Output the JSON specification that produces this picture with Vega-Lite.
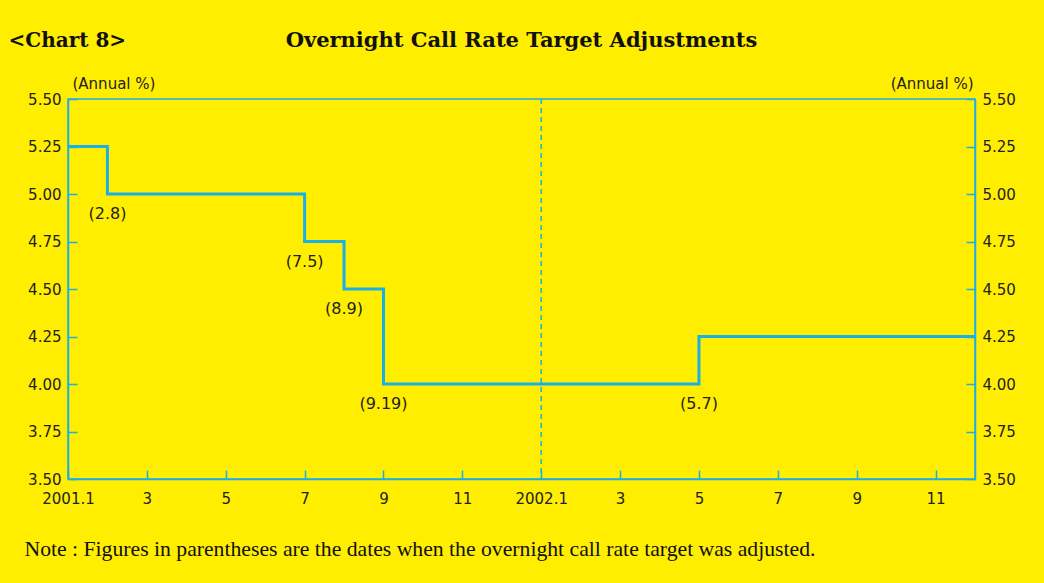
{
  "$schema": "https://vega.github.io/schema/vega-lite/v6.json",
  "width": 907,
  "height": 380,
  "autosize": {"type": "none"},
  "padding": {"left": 68, "top": 99, "right": 69, "bottom": 104},
  "background": "#FFEE00",
  "title": {
    "text": "Overnight Call Rate Target Adjustments",
    "anchor": "middle",
    "frame": "group",
    "font": "DejaVu Serif",
    "fontWeight": "bold",
    "fontSize": 21,
    "color": "#111111",
    "offset": -21
  },
  "config": {
    "view": {"stroke": "#1AAFE6", "strokeWidth": 1.5},
    "axis": {
      "grid": false,
      "domainColor": "#1AAFE6",
      "domainWidth": 1.5,
      "tickColor": "#1AAFE6",
      "tickWidth": 1.5,
      "labelFont": "DejaVu Sans",
      "labelFontSize": 15,
      "labelColor": "#222222",
      "labelFlush": false,
      "labelOverlap": false,
      "titleFont": "DejaVu Sans",
      "titleFontSize": 15,
      "titleFontWeight": "normal",
      "titleColor": "#222222"
    }
  },
  "datasets": {
    "steps": [
      {"m": 0, "rate": 5.25},
      {"m": 1, "rate": 5.0},
      {"m": 6, "rate": 4.75},
      {"m": 7, "rate": 4.5},
      {"m": 8, "rate": 4.0},
      {"m": 16, "rate": 4.25},
      {"m": 23, "rate": 4.25}
    ],
    "labels": [
      {"m": 1, "rate": 5.0, "label": "(2.8)"},
      {"m": 6, "rate": 4.75, "label": "(7.5)"},
      {"m": 7, "rate": 4.5, "label": "(8.9)"},
      {"m": 8, "rate": 4.0, "label": "(9.19)"},
      {"m": 16, "rate": 4.0, "label": "(5.7)"}
    ]
  },
  "resolve": {"axis": {"x": "independent", "y": "independent"}},
  "layer": [
    {
      "data": {"name": "steps"},
      "mark": {"type": "line", "interpolate": "step-after", "color": "#1AAFE6", "strokeWidth": 3},
      "encoding": {
        "x": {
          "field": "m", "type": "quantitative",
          "scale": {"domain": [0, 23], "nice": false, "zero": false},
          "axis": {
            "orient": "bottom",
            "values": [0, 2, 4, 6, 8, 10, 12, 14, 16, 18, 20, 22],
            "labelExpr": "datum.value == 0 ? '2001.1' : datum.value == 12 ? '2002.1' : '' + (datum.value % 12 + 1)",
            "tickSize": -9,
            "labelPadding": 21,
            "title": "Note : Figures in parentheses are the dates when the overnight call rate target was adjusted.",
            "titleFont": "Liberation Serif",
            "titleFontSize": 21.7,
            "titleColor": "#111111",
            "titleAnchor": "start",
            "titleAlign": "left",
            "titleBaseline": "alphabetic",
            "titleX": -44,
            "titleY": 76
          }
        },
        "y": {
          "field": "rate", "type": "quantitative",
          "scale": {"domain": [3.5, 5.5], "nice": false, "zero": false},
          "axis": {
            "orient": "left",
            "values": [3.5, 3.75, 4.0, 4.25, 4.5, 4.75, 5.0, 5.25, 5.5],
            "format": ".2f",
            "tickSize": -9,
            "labelPadding": 16,
            "title": "(Annual %)",
            "titleAngle": 0,
            "titleAlign": "left",
            "titleBaseline": "alphabetic",
            "titleX": 4,
            "titleY": -11
          }
        }
      }
    },
    {
      "data": {"name": "labels"},
      "mark": {"type": "text", "font": "DejaVu Sans", "fontSize": 16, "color": "#222222", "dy": 20, "baseline": "middle"},
      "encoding": {
        "x": {"field": "m", "type": "quantitative", "axis": null},
        "y": {
          "field": "rate", "type": "quantitative",
          "axis": {
            "orient": "right",
            "values": [3.5, 3.75, 4.0, 4.25, 4.5, 4.75, 5.0, 5.25, 5.5],
            "format": ".2f",
            "tickSize": -9,
            "labelPadding": 16,
            "title": "(Annual %)",
            "titleAngle": 0,
            "titleAlign": "right",
            "titleBaseline": "alphabetic",
            "titleX": -2,
            "titleY": -11
          }
        },
        "text": {"field": "label"}
      }
    },
    {
      "data": {"values": [{"m": 12}]},
      "mark": {"type": "rule", "color": "#1AAFE6", "strokeWidth": 1.5, "strokeDash": [5, 4]},
      "encoding": {
        "x": {
          "field": "m", "type": "quantitative",
          "axis": {
            "orient": "top",
            "domain": false,
            "ticks": false,
            "labels": false,
            "title": "<Chart 8>",
            "titleFont": "DejaVu Serif",
            "titleFontWeight": "bold",
            "titleFontSize": 20,
            "titleColor": "#111111",
            "titleAlign": "left",
            "titleAnchor": "start",
            "titleBaseline": "alphabetic",
            "titleX": -60,
            "titleY": -53
          }
        }
      }
    }
  ]
}
